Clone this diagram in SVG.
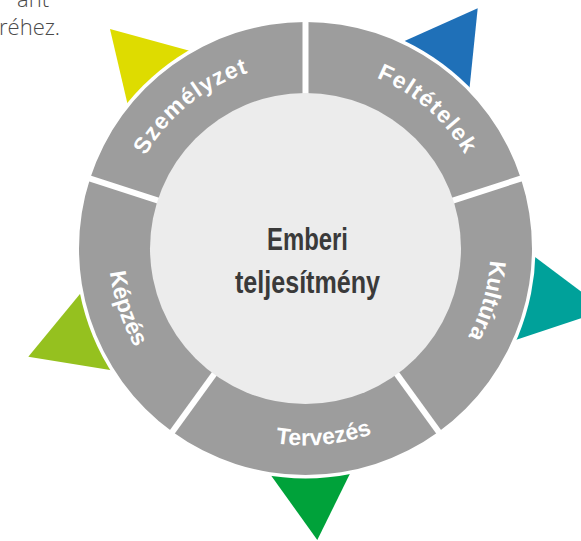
<svg xmlns="http://www.w3.org/2000/svg" width="581" height="541" viewBox="0 0 581 541">
<style>
.seg{fill:#9d9d9d}
.lbl{font-family:"Liberation Sans",Arial,sans-serif;font-weight:bold;font-size:23px;fill:#ffffff}
.sep{stroke:#ffffff;stroke-width:6;fill:none}
.ctr{font-family:"Liberation Sans",Arial,sans-serif;font-weight:bold;font-size:31px;fill:#3a3a3a;text-anchor:middle}
.para{font-family:"Open Sans","Liberation Sans",sans-serif;font-weight:300;font-size:22px;fill:#4a4a4a}
</style>
<defs>
<path id="pFel" d="M308.73,63.53 A185,185 0 0 1 488.22,219.56"/>
<path id="pSze" d="M123.90,213.20 A185,185 0 0 1 308.73,63.53"/>
<path id="pKul" d="M474.51,173.25 A185,185 0 0 1 408.95,401.87"/>
<path id="pTer" d="M193.92,410.85 A197,197 0 0 0 446.01,386.58"/>
<path id="pKep" d="M122.21,176.30 A197,197 0 0 0 202.57,416.47"/>
</defs>
<text class="para" x="17" y="7">ant</text>
<text class="para" x="-1" y="35">réhez.</text>
<g id="markers">
<polygon points="477.7,8.3 397.3,44.2 468.8,95.2" fill="#1f70b8"/>
<polygon points="605.5,310 528.1,251.8 509.6,342.1" fill="#00a19a"/>
<polygon points="317.3,540 267.3,470.2 353.0,467.5" fill="#00a23a"/>
<polygon points="28.3,356.7 84.9,288.0 117.8,371.2" fill="#95c11f"/>
<polygon points="110,29 195.9,52.5 128.7,109.0" fill="#dedc00"/>
</g>
<circle cx="305.5" cy="248.5" r="230" fill="#ffffff"/>
<g id="feltetelek">
<path class="seg" d="M305.5,22 A226.5,226.5 0 0 1 520.91,178.51 L448.16,202.15 A150,150 0 0 0 305.5,98.5 Z"/>
<text class="lbl" text-anchor="middle"><textPath href="#pFel" startOffset="50%" textLength="119" lengthAdjust="spacing">Feltételek</textPath></text>
</g>
<g id="kultura">
<path class="seg" d="M520.91,178.51 A226.5,226.5 0 0 1 438.63,431.74 L393.67,369.85 A150,150 0 0 0 448.16,202.15 Z"/>
<text class="lbl" text-anchor="middle"><textPath href="#pKul" startOffset="50%" textLength="80" lengthAdjust="spacing">Kultúra</textPath></text>
</g>
<g id="tervezes">
<path class="seg" d="M438.63,431.74 A226.5,226.5 0 0 1 172.37,431.74 L217.33,369.85 A150,150 0 0 0 393.67,369.85 Z"/>
<text class="lbl" text-anchor="middle"><textPath href="#pTer" startOffset="50%" textLength="98" lengthAdjust="spacing">Tervezés</textPath></text>
</g>
<g id="kepzes">
<path class="seg" d="M172.37,431.74 A226.5,226.5 0 0 1 90.09,178.51 L162.84,202.15 A150,150 0 0 0 217.33,369.85 Z"/>
<text class="lbl" text-anchor="middle"><textPath href="#pKep" startOffset="50%" textLength="80" lengthAdjust="spacing">Képzés</textPath></text>
</g>
<g id="szemelyzet">
<path class="seg" d="M90.09,178.51 A226.5,226.5 0 0 1 305.5,22 L305.5,98.5 A150,150 0 0 0 162.84,202.15 Z"/>
<text class="lbl" text-anchor="middle"><textPath href="#pSze" startOffset="50%" textLength="135" lengthAdjust="spacing">Személyzet</textPath></text>
</g>
<g id="connectors">
<line class="sep" x1="305.5" y1="98.5" x2="305.5" y2="16.5"/>
<line class="sep" x1="448.16" y1="202.15" x2="526.15" y2="176.81"/>
<line class="sep" x1="393.67" y1="369.85" x2="441.87" y2="436.19"/>
<line class="sep" x1="217.33" y1="369.85" x2="169.13" y2="436.19"/>
<line class="sep" x1="162.84" y1="202.15" x2="84.85" y2="176.81"/>
</g>
<g id="center">
<circle cx="305.5" cy="248.5" r="155.5" fill="#ececec"/>
<text class="ctr" x="307.5" y="250" textLength="81" lengthAdjust="spacingAndGlyphs">Emberi</text>
<text class="ctr" x="307.5" y="293" textLength="145" lengthAdjust="spacingAndGlyphs">teljesítmény</text>
</g>
</svg>
